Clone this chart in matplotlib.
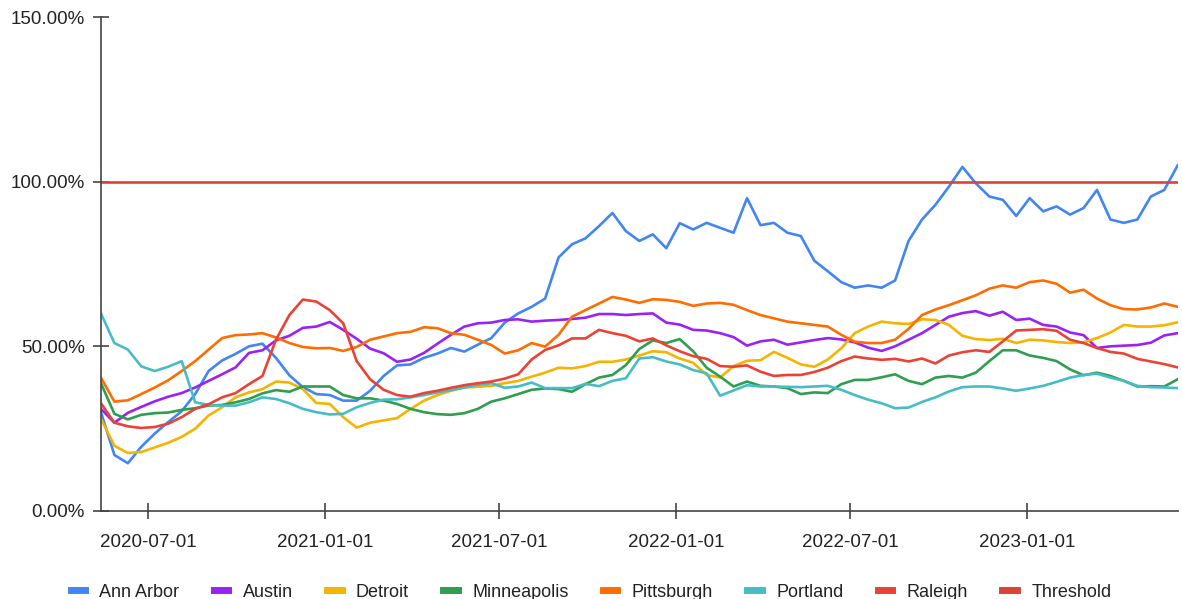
import matplotlib
matplotlib.use('Agg')
import matplotlib.pyplot as plt
import matplotlib.dates as mdates
from matplotlib.ticker import FuncFormatter
import pandas as pd

plt.rcParams['font.family'] = ['Liberation Sans', 'DejaVu Sans']

# two-week samples, 2020-05-13 .. 2023-06-07
dates = pd.date_range('2020-05-13', periods=81, freq='14D')

ann_arbor = [30, 17, 14.5, 19.5, 23.5, 27, 30.3, 35.5, 42.5, 45.7,
             47.7, 50, 50.8, 46.5, 41.2, 37.6, 35.5, 35.2, 33.5, 33.5,
             36.5, 41, 44.2, 44.5, 46.5, 47.8, 49.5, 48.4, 50.5, 52.5,
             57.2, 60, 62, 64.5, 77, 81, 82.8, 86.5, 90.5, 85,
             82, 84, 79.8, 87.4, 85.5, 87.5, 86, 84.5, 95, 86.8,
             87.5, 84.5, 83.5, 76, 72.8, 69.5, 67.8, 68.5, 67.8, 70,
             82, 88.5, 93, 98.5, 104.5, 99.5, 95.5, 94.5, 89.6, 95,
             91, 92.5, 90, 92, 97.5, 88.5, 87.5, 88.5, 95.5, 97.5, 105]
austin = [31, 26.8, 29.8, 31.6, 33.3, 34.7, 35.8, 37.5, 39.5, 41.5,
          43.6, 48, 48.8, 51.8, 53.2, 55.6, 56, 57.4, 55, 52.3,
          49.3, 47.9, 45.3, 46, 48, 50.8, 53.5, 56, 57, 57.2,
          58, 58.2, 57.5, 57.8, 58, 58.3, 58.7, 59.8, 59.8, 59.5,
          59.8, 60, 57.2, 56.6, 55, 54.8, 54, 52.8, 50.2, 51.5,
          52, 50.5, 51.2, 51.9, 52.5, 52.1, 51.2, 49.6, 48.6, 50,
          52, 54, 56.5, 59, 60.1, 60.7, 59.3, 60.5, 58, 58.4,
          56.5, 56, 54.2, 53.4, 49.5, 50, 50.2, 50.4, 51.1, 53.3, 54]
detroit = [28, 19.8, 17.6, 17.9, 19.3, 20.7, 22.5, 25, 29, 31.5,
           34.5, 36, 37, 39.3, 39, 37, 32.8, 32.5, 28.5, 25.3,
           26.8, 27.5, 28.2, 31, 33.5, 35.2, 36.5, 37.5, 37.7, 38,
           38.8, 39.5, 40.8, 42, 43.5, 43.3, 44, 45.3, 45.3, 46,
           47.2, 48.5, 48.2, 46.3, 45, 41.3, 40.5, 44, 45.6, 45.8,
           48.3, 46.5, 44.5, 43.8, 46, 49.4, 54, 56, 57.5, 57,
           56.8, 58.2, 58, 56.5, 53.2, 52.2, 51.9, 52.3, 51, 52,
           51.8, 51.3, 51, 51.2, 52.5, 54.2, 56.5, 56, 56, 56.4, 57.3]
minneapolis = [38.8, 29.5, 27.8, 29.2, 29.7, 29.9, 30.7, 31.2, 32, 32.2,
               33, 34, 35.7, 36.7, 36.2, 37.8, 37.8, 37.8, 35.2, 34.2,
               34.2, 33.5, 32.5, 31, 30, 29.4, 29.2, 29.7, 31, 33.2,
               34.2, 35.5, 36.8, 37.2, 37, 36.2, 38.5, 40.5, 41.3, 44.3,
               49.2, 51.8, 51, 52.2, 48.5, 43.5, 40.8, 37.8, 39.3, 38,
               37.8, 37.3, 35.5, 36, 35.8, 38.5, 39.8, 39.8, 40.6, 41.5,
               39.5, 38.5, 40.5, 41, 40.5, 42, 45.5, 48.8, 48.8, 47.2,
               46.5, 45.5, 43, 41.2, 42, 41, 39.5, 37.8, 37.9, 37.8, 40]
pittsburgh = [40.5, 33.2, 33.6, 35.5, 37.5, 39.7, 42.5, 45.5, 49, 52.5,
              53.4, 53.6, 54, 52.7, 51, 49.8, 49.4, 49.5, 48.6, 49.8,
              52, 53, 54, 54.4, 55.8, 55.5, 54, 53.5, 52, 50.4,
              47.8, 48.8, 51, 49.9, 53.5, 59, 61, 63, 65, 64.2,
              63.2, 64.3, 64.1, 63.5, 62.3, 63, 63.2, 62.6, 61, 59.5,
              58.5, 57.5, 57, 56.5, 56, 53.5, 51.4, 51, 51, 52,
              55.3, 59.5, 61.2, 62.5, 64, 65.5, 67.5, 68.5, 67.8, 69.5,
              70, 69, 66.3, 67.2, 64.5, 62.5, 61.3, 61.2, 61.8, 63, 62]
portland = [60, 51, 49, 43.9, 42.5, 43.8, 45.5, 33, 32.2, 32,
            32, 33, 34.5, 34, 32.7, 31, 30, 29.3, 29.5, 31.5,
            32.8, 33.8, 33.9, 34.5, 35.2, 36, 36.7, 37.5, 38.3, 38.8,
            37.4, 37.8, 39, 37.3, 37.3, 37.3, 38.6, 37.9, 39.5, 40.3,
            46.3, 46.7, 45.4, 44.5, 42.8, 41.8, 35, 36.6, 38.2, 37.8,
            37.8, 37.7, 37.6, 37.8, 38, 36.8, 35.2, 33.8, 32.7, 31.2,
            31.4, 33.1, 34.5, 36.3, 37.6, 37.8, 37.8, 37.2, 36.5, 37.2,
            38, 39.2, 40.5, 41.3, 41.7, 40.5, 39.5, 38, 37.6, 37.5, 37.3]
raleigh = [32.7, 26.8, 25.7, 25.2, 25.5, 26.5, 28.5, 31, 32.4, 34.5,
           35.8, 38.5, 41, 52, 59.5, 64.2, 63.6, 61, 57, 45.5,
           40, 36.8, 35.2, 34.7, 35.8, 36.5, 37.4, 38.2, 38.8, 39.3,
           40.2, 41.5, 46, 48.9, 50.3, 52.4, 52.4, 55, 54, 53.2,
           51.5, 52.4, 50.3, 48.5, 47, 46.2, 44, 43.8, 44.2, 42.3,
           41, 41.3, 41.3, 42.2, 43.5, 45.5, 46.9, 46.3, 45.9, 46.2,
           45.4, 46.3, 44.8, 47.2, 48.2, 48.8, 48.3, 51.5, 54.8, 55,
           55.2, 54.7, 52, 51, 49.5, 48.3, 47.8, 46.2, 45.4, 44.6, 43.6]
threshold = 100

series = [
    ('Ann Arbor', ann_arbor, '#4285F4'),
    ('Austin', austin, '#9B22F5'),
    ('Detroit', detroit, '#F4B400'),
    ('Minneapolis', minneapolis, '#2E9E4F'),
    ('Pittsburgh', pittsburgh, '#FF6D01'),
    ('Portland', portland, '#46BDC6'),
    ('Raleigh', raleigh, '#EA4335'),
    ('Threshold', [threshold] * len(dates), '#DB4437'),
]

fig = plt.figure(figsize=(11.82, 5.99), dpi=100)
ax = fig.add_axes([0.0854, 0.147, 0.911, 0.8245])

for name, vals, col in series:
    ax.plot(dates, vals, color=col, lw=1.9, label=name)

ax.set_ylim(0, 150)
ax.set_yticks([0, 50, 100, 150])
ax.yaxis.set_major_formatter(FuncFormatter(lambda v, p: '{:.2f}%'.format(v)))
ax.set_xlim(dates[0], dates[-1])
ax.xaxis.set_major_locator(mdates.MonthLocator(bymonth=[1, 7], bymonthday=1))
ax.xaxis.set_major_formatter(mdates.DateFormatter('%Y-%m-%d'))

for s in ['top', 'right']:
    ax.spines[s].set_visible(False)
for s in ['left', 'bottom']:
    ax.spines[s].set_color('#444444')
    ax.spines[s].set_linewidth(1.2)
ax.tick_params(axis='both', direction='inout', length=11, width=1.2,
               color='#444444', labelsize=13.5, labelcolor='#222222')
ax.tick_params(axis='y', pad=6)
ax.tick_params(axis='x', pad=11)

leg = fig.legend(loc='lower center', bbox_to_anchor=(0.5, -0.03), ncol=8,
                 frameon=False, fontsize=13, handlelength=0.8,
                 columnspacing=1.9, handletextpad=0.8)
for h in leg.legend_handles:
    h.set_linewidth(5)
for t in leg.get_texts():
    t.set_color('#222222')

fig.savefig('out.png', dpi=100)
